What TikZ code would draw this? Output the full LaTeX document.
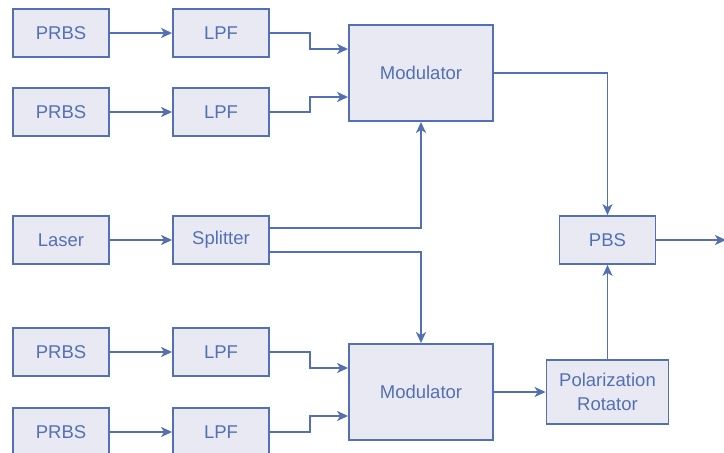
\documentclass[tikz,border=0pt]{standalone}
\usepackage{fontspec}
\setmainfont{Liberation Sans}
\usepackage{tikz}
\usetikzlibrary{arrows.meta}
\usepackage{xcolor}
\definecolor{blockline}{RGB}{84,112,180}
\definecolor{blockfill}{RGB}{232,233,243}

\begin{document}
\begin{tikzpicture}[x=1pt,y=-1pt,>={Stealth[length=11pt,width=10pt,inset=3pt]},
		block/.style={draw=blockline,fill=blockfill,line width=1.8pt,text=blockline,
			font=\fontsize{18.5}{24}\selectfont,inner sep=0pt,align=center,
			minimum width=96pt,minimum height=48pt},
		wire/.style={draw=blockline,line width=1.8pt,->}]
		
		\useasboundingbox (0,0) rectangle (724,453);
		
		% Sources and filters
		\foreach \n/\y in {A/33, B/112, C/352, D/432} {
			\node[block] (prbs\n) at (61,\y) {PRBS};
			\node[block] (lpf\n) at (221,\y) {LPF};
			\draw[wire] (prbs\n) -- (lpf\n);
		}
		\node[block] (laser) at (61,240) {Laser};
		\node[block] (split) at (221,240) {Splitter};
		\draw[wire] (laser) -- (split);
		
		% Modulators
		\node[block,minimum width=144pt,minimum height=96pt] (modA) at (421,73) {Modulator};
		\node[block,minimum width=144pt,minimum height=96pt] (modB) at (421,392) {Modulator};
		
		% Output stage
		\node[block] (pbs) at (607.5,240) {PBS};
		\node[block,minimum width=122pt,minimum height=64pt] (rot) at (607.5,392) {Polarization\\Rotator};
		\coordinate (out) at (726,240);
		
		% Filters to modulators
		\draw[wire] (lpfA.east) -- ++(40,0) |- ([yshift=24pt]modA.west);
		\draw[wire] (lpfB.east) -- ++(40,0) |- ([yshift=-24pt]modA.west);
		\draw[wire] (lpfC.east) -- ++(40,0) |- ([yshift=24pt]modB.west);
		\draw[wire] (lpfD.east) -- ++(40,0) |- ([yshift=-24pt]modB.west);
		
		% Carrier
		\draw[wire] ([yshift=12pt]split.east) -| (modA.south);
		\draw[wire] ([yshift=-12pt]split.east) -| (modB.north);
		
		\draw[wire] (modA.east) -| (pbs.north);
		\draw[wire] (modB.east) -- (rot.west);
		\draw[wire] (rot.north) -- (pbs.south);
		\draw[wire] (pbs.east) -- (out);
		
	\end{tikzpicture}
\end{document}
